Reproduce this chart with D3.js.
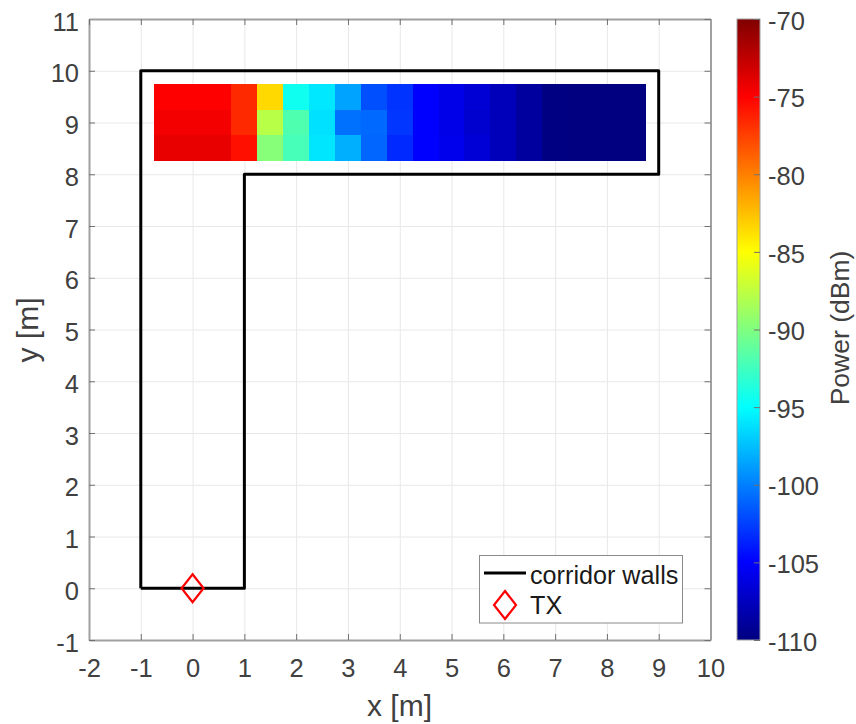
<!DOCTYPE html>
<html>
<head>
  <meta charset="utf-8">
  <title>Corridor power map</title>
  <script src="https://cdn.jsdelivr.net/npm/d3@7"></script>
  <style>
    body { margin: 0; background: #fff; }
    svg { display: block; }
    text { font-family: "Liberation Sans", Arial, sans-serif; fill: #404040; }
    .axis path { stroke: #a0a0a0; stroke-width: 2px; }
    .axis line { stroke: #707070; stroke-width: 1px; }
    .axis text { font-size: 25.5px; }
    .grid line { stroke: #e8e8e8; stroke-width: 1px; }
    .grid path { display: none; }
  </style>
</head>
<body>
<svg id="chart" width="856" height="724"></svg>
<script>
// cell centres of the measured area
var cellX = [-0.5, 0, 0.5, 1, 1.5, 2, 2.5, 3, 3.5, 4, 4.5, 5, 5.5, 6, 6.5, 7, 7.5, 8, 8.5];
var cellY = [9.5, 9, 8.5];

// power in dBm, one row per cellY
var powerTop = [-75, -75, -75, -76.6, -83.5, -94.4, -95.9, -98.6, -101.9, -103, -105, -105.9, -106.7, -107.7, -108.8, -109.9, -110, -110, -110];
var powerMid = [-74.6, -74.6, -74.6, -76.6, -87.8, -91.9, -96.2, -100.6, -100.9, -102.9, -105, -105.9, -106.9, -107.7, -108.8, -109.9, -110, -110, -110];
var powerBot = [-74.1, -74.1, -74.1, -75.6, -89.7, -92.2, -96, -98.1, -101, -103.4, -105, -105.7, -106.6, -107.7, -108.8, -109.9, -110, -110, -110];
var powerRows = [powerTop, powerMid, powerBot];

var wallX = [-1, -1, 9, 9, 1, 1, -1];
var wallY = [0, 10, 10, 8, 8, 0, 0];
var txX = [0];
var txY = [0];

var xTicks = d3.range(-2, 11);
var yTicks = d3.range(-1, 12);
var powerTicks = [-70, -75, -80, -85, -90, -95, -100, -105, -110];

var left = 89, right = 710.5, top_ = 19, bottom = 640;
var barLeft = 737, barRight = 760;

var x = d3.scaleLinear().domain([-2, 10]).range([left, right]);
var y = d3.scaleLinear().domain([-1, 11]).range([bottom, top_]);
var p = d3.scaleLinear().domain([-110, -70]).range([bottom, top_]);

// jet colormap
var jetStops = [-110, -105, -95, -85, -75, -70];
var jet = d3.scaleLinear().domain(jetStops)
  .range(['#000080', '#0000ff', '#00ffff', '#ffff00', '#ff0000', '#800000']);

// plain hyphen in tick labels, like the original
var plain = d => String(d);

var svg = d3.select('#chart');

// grid
svg.append('g').attr('class', 'grid')
  .attr('transform', 'translate(0,' + bottom + ')')
  .call(d3.axisBottom(x).tickValues(xTicks).tickSize(top_ - bottom).tickFormat(''));
svg.append('g').attr('class', 'grid')
  .attr('transform', 'translate(' + left + ',0)')
  .call(d3.axisLeft(y).tickValues(yTicks).tickSize(left - right).tickFormat(''));

// heat map cells
var cellW = x(0.5) - x(0);
var cellH = y(0) - y(0.5);
powerRows.forEach(function (row, r) {
  svg.append('g').selectAll('rect')
    .data(row)
    .enter()
    .append('rect')
    .attr('x', (d, i) => x(cellX[i] - 0.25))
    .attr('y', y(cellY[r] + 0.25))
    .attr('width', cellW)
    .attr('height', cellH)
    .attr('shape-rendering', 'crispEdges')
    .attr('fill', d => jet(d));
});

// axes, ticks point inward
svg.append('g').attr('class', 'axis')
  .attr('transform', 'translate(0,' + bottom + ')')
  .call(d3.axisBottom(x).tickValues(xTicks).tickSizeInner(-6).tickSizeOuter(0).tickPadding(19).tickFormat(plain));
svg.append('g').attr('class', 'axis')
  .attr('transform', 'translate(' + left + ',0)')
  .call(d3.axisLeft(y).tickValues(yTicks).tickSizeInner(-6).tickSizeOuter(0).tickPadding(10).tickFormat(plain))
  .selectAll('text').attr('dy', '0.44em');
svg.append('g').attr('class', 'axis')
  .attr('transform', 'translate(0,' + top_ + ')')
  .call(d3.axisTop(x).tickValues(xTicks).tickSizeInner(-6).tickSizeOuter(0).tickFormat(''));
svg.append('g').attr('class', 'axis')
  .attr('transform', 'translate(' + right + ',0)')
  .call(d3.axisRight(y).tickValues(yTicks).tickSizeInner(-6).tickSizeOuter(0).tickFormat(''));

// corridor walls
var wallLine = d3.line().x(d => x(d[0])).y(d => y(d[1]));
svg.append('path')
  .attr('d', wallLine(wallX.map((d, i) => [d, wallY[i]])))
  .attr('fill', 'none')
  .attr('stroke', '#000')
  .attr('stroke-width', 3)
  .attr('stroke-linejoin', 'round');

// TX marker
var diamond = 'M0,-14L11,0L0,14L-11,0Z';
svg.append('g').selectAll('path')
  .data(txX)
  .enter()
  .append('path')
  .attr('d', diamond)
  .attr('transform', (d, i) => 'translate(' + x(d) + ',' + y(txY[i]) + ')')
  .attr('fill', 'none')
  .attr('stroke', '#ff0000')
  .attr('stroke-width', 2.2);

svg.append('text')
  .attr('x', 399.5)
  .attr('y', 716)
  .attr('text-anchor', 'middle')
  .style('font-size', '30px')
  .text('x [m]');
svg.append('text')
  .attr('transform', 'translate(38,330) rotate(-90)')
  .attr('text-anchor', 'middle')
  .style('font-size', '30px')
  .text('y [m]');

// legend
var legend = svg.append('g');
legend.append('rect')
  .attr('x', 479.5).attr('y', 555.5)
  .attr('width', 203).attr('height', 67.5)
  .attr('fill', '#fff')
  .attr('stroke', '#8a8a8a')
  .attr('stroke-width', 1);
legend.append('line')
  .attr('x1', 484).attr('x2', 526)
  .attr('y1', 573).attr('y2', 573)
  .attr('stroke', '#000').attr('stroke-width', 3);
legend.append('path')
  .attr('d', diamond)
  .attr('transform', 'translate(505,605)')
  .attr('fill', 'none')
  .attr('stroke', '#ff0000')
  .attr('stroke-width', 2.2);
legend.append('text')
  .attr('x', 530).attr('y', 584)
  .style('font-size', '25.2px').style('fill', '#1a1a1a')
  .text('corridor walls');
legend.append('text')
  .attr('x', 530).attr('y', 614)
  .style('font-size', '25.2px').style('fill', '#1a1a1a')
  .text('TX');

// colorbar
var grad = svg.append('defs').append('linearGradient')
  .attr('id', 'jetGrad')
  .attr('x1', 0).attr('x2', 0).attr('y1', 1).attr('y2', 0);
grad.selectAll('stop')
  .data(jetStops)
  .enter()
  .append('stop')
  .attr('offset', d => (d + 110) / 40)
  .attr('stop-color', d => jet(d));
svg.append('rect')
  .attr('x', barLeft).attr('y', top_)
  .attr('width', barRight - barLeft).attr('height', bottom - top_)
  .attr('fill', 'url(#jetGrad)')
  .attr('stroke', '#a0a0a0')
  .attr('stroke-width', 1);
var barAxis = svg.append('g').attr('class', 'axis')
  .attr('transform', 'translate(' + barRight + ',0)')
  .call(d3.axisRight(p).tickValues(powerTicks).tickSizeInner(-6).tickSizeOuter(0).tickPadding(8).tickFormat(plain));
barAxis.select('.domain').remove();
barAxis.selectAll('text').attr('dy', '0.40em');
svg.append('text')
  .attr('transform', 'translate(849,328) rotate(-90)')
  .attr('text-anchor', 'middle')
  .style('font-size', '26.5px')
  .text('Power (dBm)');
</script>
</body>
</html>
